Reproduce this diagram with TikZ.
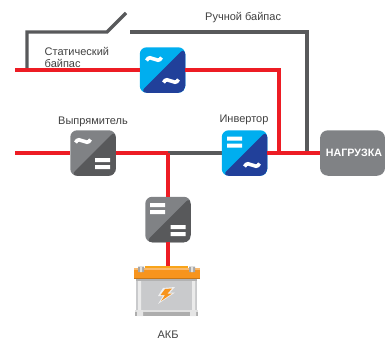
\documentclass[tikz,border=0pt]{standalone}
\usepackage{fontspec}
\setmainfont{Liberation Sans}
\usetikzlibrary{calc}
\definecolor{wirered}{HTML}{ED1C24}
\definecolor{wiregrey}{HTML}{58595B}
\definecolor{skyb}{HTML}{00AEEF}
\definecolor{deepb}{HTML}{21409A}
\definecolor{midg}{HTML}{808285}
\definecolor{darkg}{HTML}{58595B}
\definecolor{batt}{HTML}{F7941D}
\definecolor{bodyg}{HTML}{C9CACC}
\tikzset{
  x=1pt,y=-1pt,
  hot/.style={draw=wirered,line width=3.2pt},
  cold/.style={draw=wiregrey,line width=3.2pt},
  conv/.style n args={2}{rounded corners=7pt,minimum width=45.5pt,minimum height=45.5pt,inner sep=0pt,fill=#1,
    path picture={\fill[#2] (path picture bounding box.north east) -- (path picture bounding box.south east) -- (path picture bounding box.south west) -- cycle;}},
  lbl/.style={font=\fontsize{11pt}{12pt}\selectfont,text=black!75,inner sep=0pt,align=left},
  glyph/.style={draw=white,line width=3.6pt}
}
\newcommand{\tildeat}[2]{\draw[glyph] (#1-7.5,#2+1.5) .. controls (#1-3.5,#2-6.5) and (#1+3.5,#2+6.5) .. (#1+7.5,#2-1.5);}
\newcommand{\barsat}[2]{\fill[white] (#1-7.5,#2-5.5) rectangle (#1+7.5,#2-1.5) (#1-7.5,#2+1.5) rectangle (#1+7.5,#2+5.5);}
\begin{document}
\begin{tikzpicture}
\useasboundingbox (0,0) rectangle (385,340);
\coordinate (sin) at (15,70);
\coordinate (min) at (15,153);
\coordinate (swl) at (107,32);
\coordinate (swt) at (126,13);
\coordinate (swr) at (130,32);
\coordinate (mbjoin) at (307,153);
\coordinate (sbjoin) at (279,153);
\coordinate (dcjoin) at (168,153);
\coordinate (mbtap) at (27,70);
\coordinate (battop) at (168,267);
\draw[cold] (mbtap) |- (swl) -- (swt);
\draw[cold] (swr) -| (mbjoin);
\draw[cold] (dcjoin) -- (222,153);
\node[conv={skyb}{deepb}] (stat) at (162.5,70) {};
\node[conv={midg}{darkg}] (rect) at (93,153) {};
\node[conv={skyb}{deepb}] (inv) at (244.5,153) {};
\node[conv={midg}{darkg}] (dcdc) at (168,219.5) {};
\node[rounded corners=8pt,fill=midg,minimum width=65pt,minimum height=45.5pt,inner sep=0pt,text=white,font=\bfseries\fontsize{10.7pt}{12pt}\selectfont] (load) at (352.5,153) {\hspace{3pt}НАГРУЗКА};
\draw[hot] (sin) -- (stat);
\draw[hot] (stat) -| (sbjoin);
\draw[hot] (min) -- (rect);
\draw[hot] (rect) -- (dcjoin);
\draw[hot] (dcjoin) -- (dcdc);
\draw[hot] (dcdc) -- (battop);
\draw[hot] (inv.east) -- (load.west);
\tildeat{154}{59}\tildeat{171}{81}
\tildeat{83}{141}\barsat{102.5}{163.5}
\barsat{234.5}{142}\tildeat{252}{165}
\barsat{157.5}{208.5}\barsat{178}{230.5}
% battery
\fill[bodyg] (136,279) rectangle (197,310);
\fill[black!8] (138,279) rectangle (141,310) (192,279) rectangle (195,310);
\fill[black!30] (136,279) rectangle (197,281);
\fill[black!32] (135,310) rectangle (198,316);
\fill[black!12] (135,310) rectangle (198,312);
\fill[black!10] (137,310) rectangle (143,316) (190,310) rectangle (196,316);
\fill[batt!85!yellow] (145,265.5) rectangle (188,268);
\fill[batt] (134,268) rectangle (200,279);
\fill[batt!65!white] (134,268) rectangle (200,270);
\fill[black!35] (138,266.5) rectangle (144,272) (189,266.5) rectangle (195,272);
\fill[black!12] (140,266.5) rectangle (142,272) (191,266.5) rectangle (193,272);
\fill[batt!80!black] (134,277.5) rectangle (200,279);
\fill[white!70!bodyg] (163,288) -- (175,287) -- (170,292.5) -- (175,292.5) -- (158,304) -- (163,296) -- (158,296) -- cycle;
\fill[batt] (165,289) -- (172,288.5) -- (167.5,293.5) -- (172,293.5) -- (161,301) -- (165,295) -- (160.5,295) -- cycle;
\node[lbl,anchor=west] (tstat) at (44.5,51.5) {Статический};
\node[lbl,anchor=west] (tbyp) at (44.5,63) {байпас};
\node[lbl,anchor=west] (tman) at (205,18) {Ручной байпас};
\node[lbl,anchor=center] (trect) at (93,122) {Выпрямитель};
\node[lbl,anchor=center] (tinv) at (244,120) {Инвертор};
\node[lbl,anchor=center] (takb) at (168,335) {АКБ};
\end{tikzpicture}
\end{document}
